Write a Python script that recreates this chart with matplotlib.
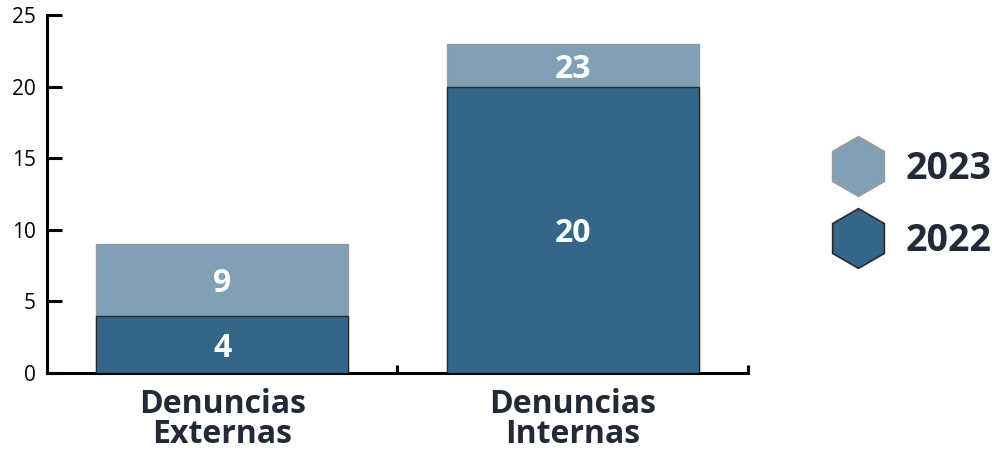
import numpy as np
import matplotlib.pyplot as plt
from matplotlib.lines import Line2D

plt.rcParams['font.family'] = ['Open Sans', 'DejaVu Sans']

categories = ['Denuncias\nExternas', 'Denuncias\nInternas']
years = ['2023', '2022']
vals_2023 = [9, 23]
vals_2022 = [4, 20]

col_2023 = '#7fa0b5'
col_2022 = '#336689'
text_dark = '#232a37'

fig = plt.figure(figsize=(9.92, 4.5), dpi=100)
ax = fig.add_axes([0.0474, 0.171, 0.7066, 0.7957])

x = np.arange(len(categories))
w = 0.72

# 2023 drawn behind, 2022 in front (overlapping, not stacked)
ax.bar(x, vals_2023, width=w, color=col_2023, edgecolor='#9a9a9a', linewidth=1.0, zorder=2)
ax.bar(x, vals_2022, width=w, color=col_2022, edgecolor='#2a2a2a', linewidth=1.0, zorder=3)

for xi, v23, v22 in zip(x, vals_2023, vals_2022):
    ax.text(xi, v22 / 2, str(v22), ha='center', va='center_baseline', color='white',
            fontsize=23, fontweight='bold', zorder=4)
    ax.text(xi, (v22 + v23) / 2, str(v23), ha='center', va='center_baseline', color='white',
            fontsize=23, fontweight='bold', zorder=4)

ax.set_xlim(-0.5, 1.5)
ax.set_ylim(0, 25)
ax.set_yticks([0, 5, 10, 15, 20, 25])

ax.set_xticks(x)
ax.set_xticklabels(categories, fontsize=23, fontweight='bold', color=text_dark,
                   linespacing=0.86)
ax.set_xticks([0.5, 1.5], minor=True)
ax.tick_params(axis='x', which='major', length=0, pad=11)
ax.tick_params(axis='x', which='minor', direction='in', length=6, width=2.2)
ax.tick_params(axis='y', direction='in', length=11, width=2.2, labelsize=15,
               pad=8, colors='black')

for s in ['top', 'right']:
    ax.spines[s].set_visible(False)
for s in ['left', 'bottom']:
    ax.spines[s].set_linewidth(2.2)

handles = [
    Line2D([], [], marker='h', linestyle='none', markersize=43,
           markerfacecolor=col_2023, markeredgecolor='#999999', markeredgewidth=1.2),
    Line2D([], [], marker='h', linestyle='none', markersize=43,
           markerfacecolor=col_2022, markeredgecolor='#2a2a2a', markeredgewidth=1.2),
]
leg = fig.legend(handles, years, loc='center left', bbox_to_anchor=(0.835, 0.545),
                 frameon=False, borderpad=0, borderaxespad=0,
                 handlelength=1.6, handletextpad=0.45,
                 labelspacing=0.9, prop={'size': 27, 'weight': 'bold'})
for t in leg.get_texts():
    t.set_color(text_dark)

fig.savefig('out.png', dpi=100)
